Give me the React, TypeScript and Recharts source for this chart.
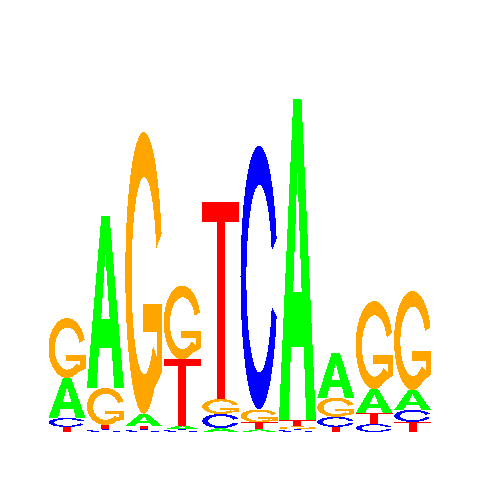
import React from 'react';
import { BarChart, Bar, XAxis, YAxis } from 'recharts';

// Sequence logo: information (bits) per letter at each position
const positions = ['1', '2', '3', '4', '5', '6', '7', '8', '9', '10'];
const bitsA = [0.222, 0.956, 0.067, 0.022, 0.022, 0.014, 1.786, 0.25, 0.133, 0.111];
const bitsC = [0.05, 0.014, 0.014, 0.014, 0.078, 1.467, 0.014, 0.056, 0.044, 0.067];
const bitsG = [0.333, 0.206, 1.567, 0.411, 0.083, 0.072, 0.017, 0.106, 0.489, 0.55];
const bitsT = [0.028, 0.025, 0.019, 0.367, 1.094, 0.039, 0.033, 0.028, 0.061, 0.056];

const letterColors: Record<string, string> = {
  A: '#00ff00',
  C: '#0000ff',
  G: '#ffa500',
  T: '#ff0000',
};

const data = positions.map((pos, i) => {
  const entries: [string, number][] = [
    ['A', bitsA[i]],
    ['C', bitsC[i]],
    ['G', bitsG[i]],
    ['T', bitsT[i]],
  ];
  entries.sort((a, b) => a[1] - b[1]);
  const row: any = { pos };
  entries.forEach(([l, v], k) => {
    row['v' + k] = v;
    row['l' + k] = l;
  });
  return row;
});

type Pt = [number, number];

function arc(cx: number, cy: number, rx: number, ry: number, t0: number, t1: number, n = 48): Pt[] {
  const pts: Pt[] = [];
  for (let k = 0; k <= n; k++) {
    const t = ((t0 + ((t1 - t0) * k) / n) * Math.PI) / 180;
    pts.push([cx + rx * Math.cos(t), cy - ry * Math.sin(t)]);
  }
  return pts;
}

function glyph(letter: string): Pt[][] {
  if (letter === 'A') {
    const outer: Pt[] = [
      [0.39, 0], [0.61, 0], [1, 1], [0.74, 1], [0.671, 0.77],
      [0.329, 0.77], [0.26, 1], [0, 1],
    ];
    const counter: Pt[] = [[0.5, 0.22], [0.615, 0.6], [0.385, 0.6]];
    return [outer, counter];
  }
  if (letter === 'T') {
    return [[
      [0, 0], [1, 0], [1, 0.1], [0.61, 0.1], [0.61, 1], [0.39, 1], [0.39, 0.1], [0, 0.1],
    ]];
  }
  if (letter === 'C') {
    const outer = arc(0.5, 0.5, 0.5, 0.5, 17, 343);
    const inner = arc(0.51, 0.505, 0.35, 0.355, 343, 17);
    return [[...outer, ...inner]];
  }
  // G
  const outer = arc(0.5, 0.5, 0.5, 0.5, 16, 305);
  const inner = arc(0.51, 0.51, 0.34, 0.35, 315, 16);
  const mid: Pt[] = [
    [1.0, 0.85], [1.0, 0.61], [0.48, 0.61], [0.48, 0.71], [0.86, 0.71], [0.86, 0.8],
  ];
  return [[...outer, ...mid, ...inner]];
}

function glyphPath(letter: string, x: number, y: number, w: number, h: number): string {
  return glyph(letter)
    .map(
      (poly) =>
        poly
          .map(([u, v], k) => `${k === 0 ? 'M' : 'L'}${(x + u * w).toFixed(2)},${(y + v * h).toFixed(2)}`)
          .join(' ') + ' Z'
    )
    .join(' ');
}

const makeShape = (level: number) => (props: any) => {
  const { x, y, width, height, payload } = props;
  if (!payload || !(height > 0)) return <g />;
  const letter = payload['l' + level];
  return (
    <path
      d={glyphPath(letter, x, y, width, height)}
      fill={letterColors[letter]}
      fillRule="evenodd"
      stroke="none"
      shapeRendering="crispEdges"
    />
  );
};

export default function App() {
  return (
    <BarChart
      width={480}
      height={480}
      data={data}
      margin={{ top: 64, right: 56, bottom: 56, left: 40 }}
      barCategoryGap={0.5}
    >
      <XAxis dataKey="pos" type="category" hide />
      <YAxis type="number" domain={[0, 2]} hide allowDataOverflow />
      {[0, 1, 2, 3].map((k) => (
        <Bar
          key={k}
          dataKey={'v' + k}
          stackId="logo"
          isAnimationActive={false}
          shape={makeShape(k)}
        />
      ))}
    </BarChart>
  );
}
